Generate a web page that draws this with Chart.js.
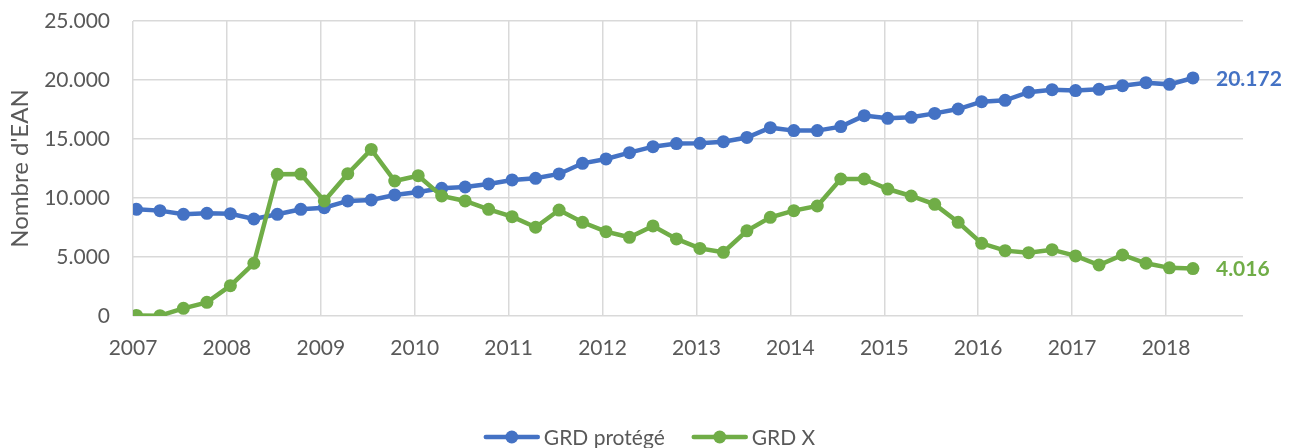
<!DOCTYPE html>
<html>
<head>
<meta charset="utf-8">
<script src="https://cdn.jsdelivr.net/npm/chart.js@4/dist/chart.umd.min.js"></script>
<style>
  html, body { margin: 0; padding: 0; background: #ffffff; }
  #wrap { width: 1291px; height: 448px; position: relative; }
</style>
</head>
<body>
<div id="wrap"><canvas id="c"></canvas></div>
<script>
// ---- Data ----
const quarters = [
  '2007 T1','2007 T2','2007 T3','2007 T4',
  '2008 T1','2008 T2','2008 T3','2008 T4',
  '2009 T1','2009 T2','2009 T3','2009 T4',
  '2010 T1','2010 T2','2010 T3','2010 T4',
  '2011 T1','2011 T2','2011 T3','2011 T4',
  '2012 T1','2012 T2','2012 T3','2012 T4',
  '2013 T1','2013 T2','2013 T3','2013 T4',
  '2014 T1','2014 T2','2014 T3','2014 T4',
  '2015 T1','2015 T2','2015 T3','2015 T4',
  '2016 T1','2016 T2','2016 T3','2016 T4',
  '2017 T1','2017 T2','2017 T3','2017 T4',
  '2018 T1','2018 T2'
];
const grdProtege = [
  9040, 8930, 8620, 8700, 8670, 8220, 8620, 9040, 9180, 9750, 9830, 10260,
  10510, 10820, 10930, 11190, 11530, 11670, 12040, 12940, 13310, 13840, 14350, 14610,
  14630, 14770, 15130, 15960, 15710, 15710, 16050, 16980, 16750, 16840, 17170, 17540,
  18160, 18280, 18970, 19180, 19100, 19210, 19520, 19770, 19630, 20172
];
const grdX = [
  50, 30, 650, 1160, 2570, 4470, 12010, 12030, 9750, 12060, 14120, 11440,
  11890, 10170, 9750, 9040, 8420, 7520, 8980, 7940, 7150, 6670, 7630, 6530,
  5730, 5400, 7220, 8360, 8930, 9320, 11610, 11610, 10760, 10170, 9460, 7940,
  6160, 5540, 5370, 5620, 5090, 4320, 5170, 4470, 4080, 4016
];
const seriesNames = ['GRD protégé', 'GRD X'];
const yearTicks = [2007, 2008, 2009, 2010, 2011, 2012, 2013, 2014, 2015, 2016, 2017, 2018];

// ---- helpers ----
const BLUE = '#4472C4';
const GREEN = '#70AD47';
const GREY = '#595959';
const FONT = 'Lato, "Open Sans", sans-serif';

function quarterToX(label) {
  const [y, q] = label.split(' T');
  return Number(y) + (Number(q) - 1) / 4 + 0.037;
}
function fmt(v) {
  return String(Math.round(v)).replace(/\B(?=(\d{3})+(?!\d))/g, '.');
}
function pts(values) {
  return quarters.map((q, i) => ({ x: quarterToX(q), y: values[i] }));
}

const endLabels = {
  id: 'endLabels',
  afterDatasetsDraw(chart) {
    const ctx = chart.ctx;
    ctx.save();
    ctx.font = 'bold 21px ' + FONT;
    ctx.textBaseline = 'middle';
    ctx.textAlign = 'left';
    chart.data.datasets.forEach((ds, di) => {
      const meta = chart.getDatasetMeta(di);
      const el = meta.data[meta.data.length - 1];
      const val = ds.data[ds.data.length - 1].y;
      ctx.fillStyle = ds.borderColor;
      ctx.fillText(fmt(val), el.x + 23, el.y + 1);
    });
    ctx.restore();
  }
};

const customLegend = {
  id: 'customLegend',
  afterDraw(chart) {
    const ctx = chart.ctx;
    ctx.save();
    ctx.font = '21px ' + FONT;
    ctx.textBaseline = 'middle';
    const markW = 56, gapText = 4, gapItem = 27;
    const items = chart.data.datasets.map(ds => ({ ds, w: ctx.measureText(ds.label).width }));
    let total = 0;
    items.forEach((it, i) => { total += markW + gapText + it.w + (i < items.length - 1 ? gapItem : 0); });
    let x = chart.width / 2 - total / 2 + 4;
    const y = 437;
    items.forEach(it => {
      ctx.strokeStyle = it.ds.borderColor;
      ctx.lineWidth = 4.5;
      ctx.lineCap = 'round';
      ctx.beginPath();
      ctx.moveTo(x + 2, y);
      ctx.lineTo(x + markW - 2, y);
      ctx.stroke();
      ctx.fillStyle = it.ds.borderColor;
      ctx.beginPath();
      ctx.arc(x + markW / 2, y, 6.5, 0, Math.PI * 2);
      ctx.fill();
      ctx.fillStyle = GREY;
      ctx.fillText(it.ds.label, x + markW + gapText, y + 1);
      x += markW + gapText + it.w + gapItem;
    });
    ctx.restore();
  }
};

new Chart(document.getElementById('c'), {
  type: 'line',
  data: {
    datasets: [
      {
        label: seriesNames[0], data: pts(grdProtege), order: 1,
        borderColor: BLUE, backgroundColor: BLUE,
        borderWidth: 4.5, pointRadius: 6.5, pointBorderWidth: 0,
        pointBackgroundColor: BLUE, tension: 0
      },
      {
        label: seriesNames[1], data: pts(grdX), order: 0,
        borderColor: GREEN, backgroundColor: GREEN,
        borderWidth: 4.5, pointRadius: 6.5, pointBorderWidth: 0,
        pointBackgroundColor: GREEN, tension: 0
      }
    ]
  },
  options: {
    responsive: true,
    maintainAspectRatio: false,
    animation: false,
    devicePixelRatio: 1,
    layout: { padding: { top: 21, right: 48, left: 0, bottom: 0 } },
    plugins: {
      legend: { display: false },
      tooltip: { enabled: false }
    },
    scales: {
      x: {
        type: 'linear',
        min: yearTicks[0],
        max: 2018.82,
        afterBuildTicks: s => { s.ticks = yearTicks.map(v => ({ value: v })); },
        afterFit: s => { s.height = 132; s.paddingLeft = 0; s.paddingRight = 0; },
        ticks: {
          callback: v => String(v),
          color: GREY,
          font: { family: FONT, size: 21 },
          padding: 20,
          maxRotation: 0,
          autoSkip: false
        },
        grid: { color: '#d9d9d9', lineWidth: 1.5, drawTicks: false },
        border: { display: false }
      },
      y: {
        min: 0,
        max: 25000,
        afterFit: s => { s.width = 133; s.paddingTop = 0; s.paddingBottom = 0; },
        ticks: {
          stepSize: 5000,
          callback: v => fmt(v),
          color: GREY,
          font: { family: FONT, size: 21 },
          padding: 23
        },
        grid: { color: '#d9d9d9', lineWidth: 1.5, drawTicks: false },
        border: { display: false },
        title: {
          display: true,
          text: "Nombre d'EAN",
          color: GREY,
          font: { family: FONT, size: 24 },
          padding: { top: 6, bottom: 0 }
        }
      }
    }
  },
  plugins: [endLabels, customLegend]
});
</script>
</body>
</html>
